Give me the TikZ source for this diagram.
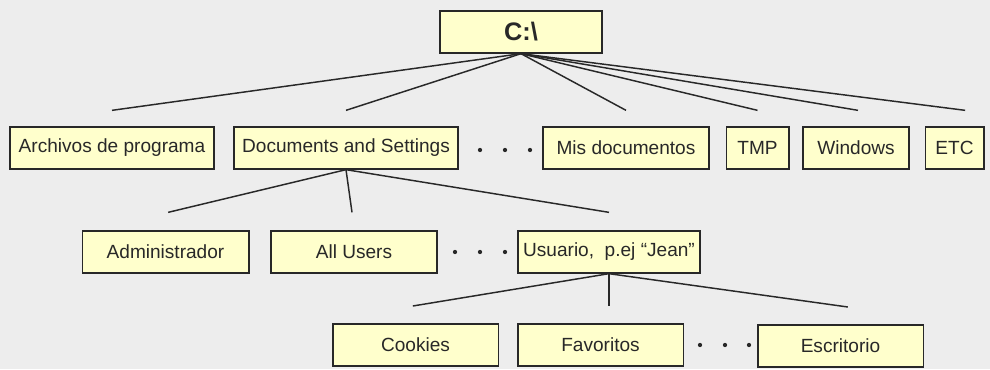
\documentclass[tikz,border=0pt]{standalone}
\usepackage{fontspec}
\setmainfont{Liberation Sans}
\definecolor{bgcol}{RGB}{237,237,237}
\definecolor{boxcol}{RGB}{255,255,204}
\definecolor{inkcol}{RGB}{40,40,40}
\begin{document}
\begin{tikzpicture}[x=0.75pt,y=-0.75pt,
	folder/.style={draw=inkcol,fill=boxcol,line width=1pt,minimum height=31.5pt,inner sep=0pt,text=inkcol,font=\fontsize{14.3}{17}\selectfont},
	branch/.style={draw=inkcol,line width=1.1pt}]
	\fill[bgcol] (0,0) rectangle (990,369);
	\useasboundingbox (0,0) rectangle (990,369);
	\node[folder,minimum width=121.5pt,font=\fontsize{19}{22}\selectfont\bfseries] (root) at (521,32) {C:\textbackslash};
	\node[folder,minimum width=153pt] (archivos) at (112,148) {Archivos de programa};
	\node[folder,minimum width=168pt] (documents) at (346,148) {Documents and Settings};
	\node[folder,minimum width=124.5pt] (misdoc) at (626,148) {Mis documentos};
	\node[folder,minimum width=47pt] (tmp) at (757.5,148) {TMP};
	\node[folder,minimum width=79.5pt] (windows) at (856,148) {Windows};
	\node[folder,minimum width=44pt] (etc) at (954.5,148) {ETC};
	\node[folder,minimum width=125pt] (admin) at (165.5,252) {Administrador};
	\node[folder,minimum width=124.5pt] (allusers) at (354,252) {All Users};
	\node[folder,minimum width=136.5pt] (usuario) at (609,252) {Usuario,~ p.ej “Jean”};
	\node[folder,minimum width=124pt] (cookies) at (415.5,345) {Cookies};
	\node[folder,minimum width=124pt] (favoritos) at (600.5,345) {Favoritos};
	\node[folder,minimum width=124pt] (escritorio) at (840.5,346) {Escritorio};
	\draw[branch] (root.south) -- ([yshift=12pt]archivos.north);
	\draw[branch] (root.south) -- ([yshift=12pt]documents.north);
	\draw[branch] (root.south) -- ([yshift=12pt]misdoc.north);
	\draw[branch] (root.south) -- ([yshift=12pt]tmp.north);
	\draw[branch] (root.south) -- ([xshift=1.5pt,yshift=12pt]windows.north);
	\draw[branch] (root.south) -- ([xshift=8pt,yshift=12pt]etc.north);
	\draw[branch] (documents.south) -- ([xshift=2pt,yshift=13.5pt]admin.north);
	\draw[branch] (documents.south) -- ([xshift=-1.5pt,yshift=13.5pt]allusers.north);
	\draw[branch] (documents.south) -- ([yshift=13.5pt]usuario.north);
	\draw[branch] (usuario.south) -- ([xshift=-2pt,yshift=13pt]cookies.north);
	\draw[branch] (usuario.south) -- ([yshift=13pt]favoritos.north -| usuario.south);
	\draw[branch] (usuario.south) -- ([xshift=5.5pt,yshift=13pt]escritorio.north);
	\foreach \dx in {480,505,530} \fill[inkcol] (\dx,150) circle (1.6pt);
	\foreach \dx in {455,480,505} \fill[inkcol] (\dx,252) circle (1.6pt);
	\foreach \dx in {700,725,749} \fill[inkcol] (\dx,345) circle (1.6pt);
\end{tikzpicture}
\end{document}
